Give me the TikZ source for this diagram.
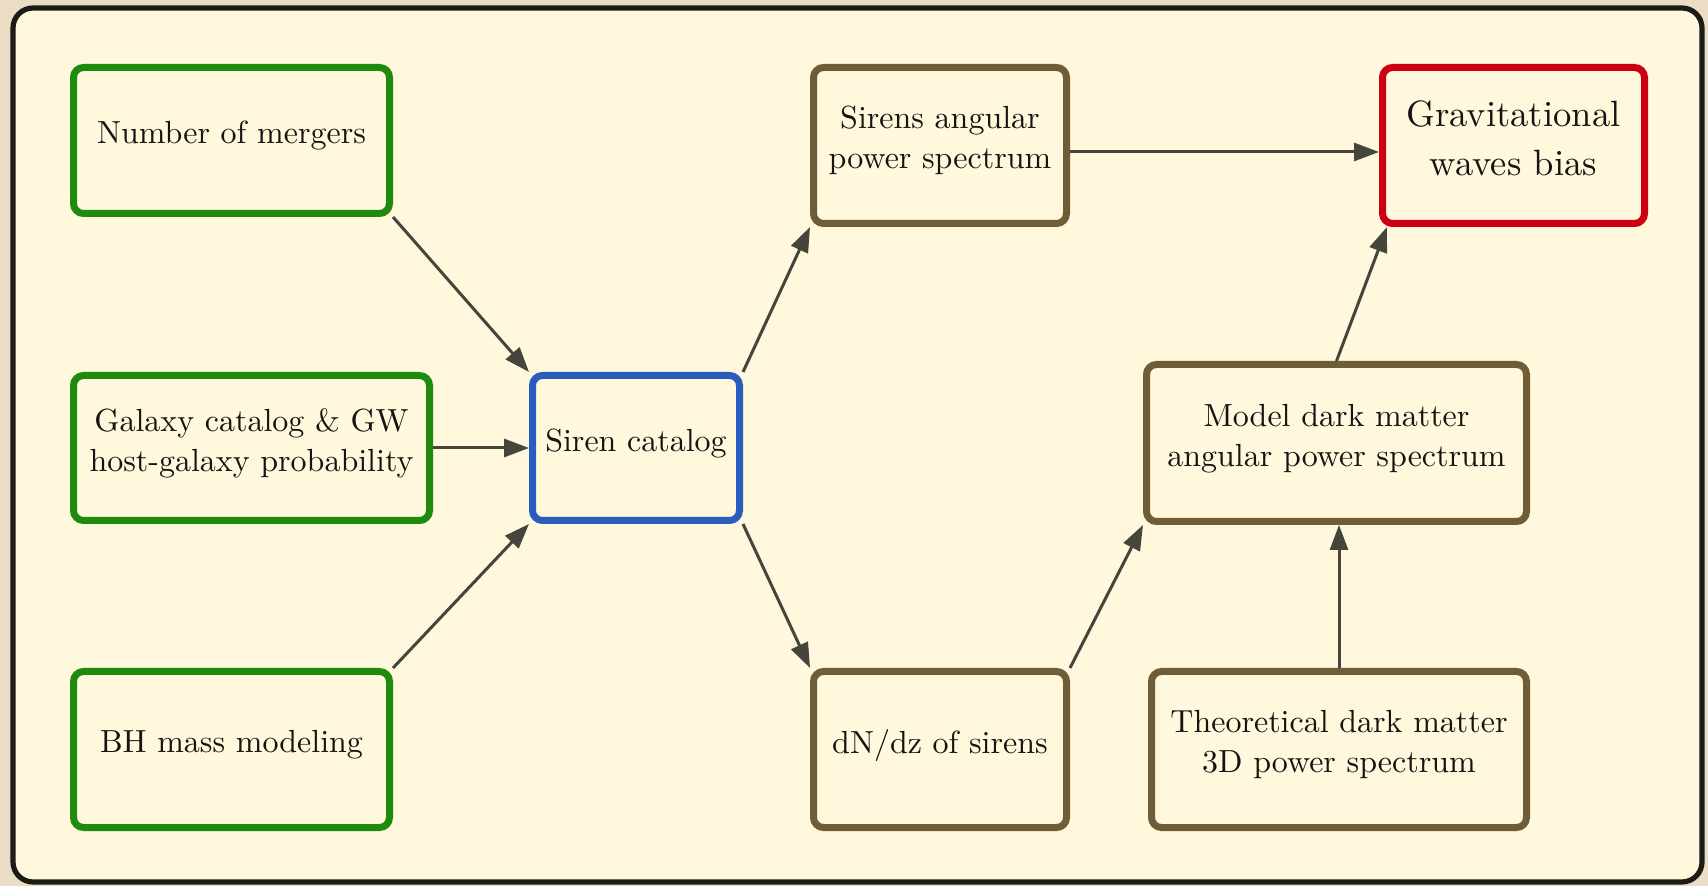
\documentclass[tikz,border=0pt]{standalone}
\usepackage{fontspec}
\setmainfont{lmroman10-regular.otf}
\usetikzlibrary{arrows.meta,calc}
\definecolor{pagebg}{HTML}{EBDCC5}
\definecolor{cream}{HTML}{FFF8DD}
\definecolor{framec}{HTML}{1C1C16}
\definecolor{gbox}{HTML}{1E8A0E}
\definecolor{bbox}{HTML}{285DBE}
\definecolor{brbox}{HTML}{6E5D37}
\definecolor{rbox}{HTML}{CC0012}
\definecolor{arr}{HTML}{45453B}
\definecolor{txt}{HTML}{141412}
\newcommand\lowstrut{\rule[-8pt]{0pt}{8pt}}
\newcommand\lowstrutg{\rule[-7pt]{0pt}{7pt}}
\begin{document}
\begin{tikzpicture}[x=0.5pt,y=-0.5pt,
  box/.style={draw, rounded corners=5pt, line width=3.5pt, inner sep=0pt,
    align=center, text=txt, font=\fontsize{16}{20}\selectfont},
  gbx/.style={box, draw=gbox},
  bbx/.style={box, draw=bbox},
  brbx/.style={box, draw=brbox},
  rbx/.style={box, draw=rbox, font=\fontsize{18.3}{24.5}\selectfont},
  link/.style={draw=arr, line width=1.5pt, -{Triangle[length=12.5pt,width=9pt]}}]
\useasboundingbox (0,0) rectangle (1708,886);
\fill[pagebg] (0,0) rectangle (1708,886);
\draw[line width=2.6pt, draw=framec, fill=cream, rounded corners=10pt] (13,8) rectangle (1702,882);

\node[gbx, minimum width=158pt, minimum height=73pt] (m) at (231.5,140.5) {Number of mergers\lowstrut};
\node[gbx, minimum width=178pt, minimum height=72.5pt] (gal) at (251.5,448) {Galaxy catalog \& GW\\host-galaxy probability\lowstrut};
\node[gbx, minimum width=158pt, minimum height=78pt] (bh) at (231.5,749.5) {BH mass modeling\lowstrut};
\node[bbx, minimum width=103.5pt, minimum height=72.5pt] (s) at (636,448) {Siren catalog\lowstrut};
\node[brbx, minimum width=126.5pt, minimum height=78pt] (sa) at (940,145.5) {Sirens angular\\power spectrum\lowstrut};
\node[brbx, minimum width=126.5pt, minimum height=78pt] (dn) at (940,749.5) {dN/dz of sirens\lowstrut};
\node[brbx, minimum width=190pt, minimum height=78.5pt] (mod) at (1336.5,443) {Model dark matter\\angular power spectrum\lowstrut};
\node[brbx, minimum width=187.5pt, minimum height=78pt] (th) at (1339,749.5) {Theoretical dark matter\\3D power spectrum\lowstrut};
\node[rbx, minimum width=131pt, minimum height=78pt] (g) at (1513.5,145.5) {Gravitational\\waves bias\lowstrutg};

\draw[link] (m.south east) -- (s.north west);
\draw[link] (gal.east) -- (s.west);
\draw[link] (bh.north east) -- (s.south west);
\draw[link] (s.north east) -- (sa.south west);
\draw[link] (s.south east) -- (dn.north west);
\draw[link] ($(sa.east)+(0,6.5)$) -- ($(g.west)+(0,6.5)$);
\draw[link] (dn.north east) -- (mod.south west);
\draw[link] (th.north) -- (th.north |- mod.south);
\draw[link] (mod.north) -- ($(g.south west)+(8,0)$);
\end{tikzpicture}
\end{document}
